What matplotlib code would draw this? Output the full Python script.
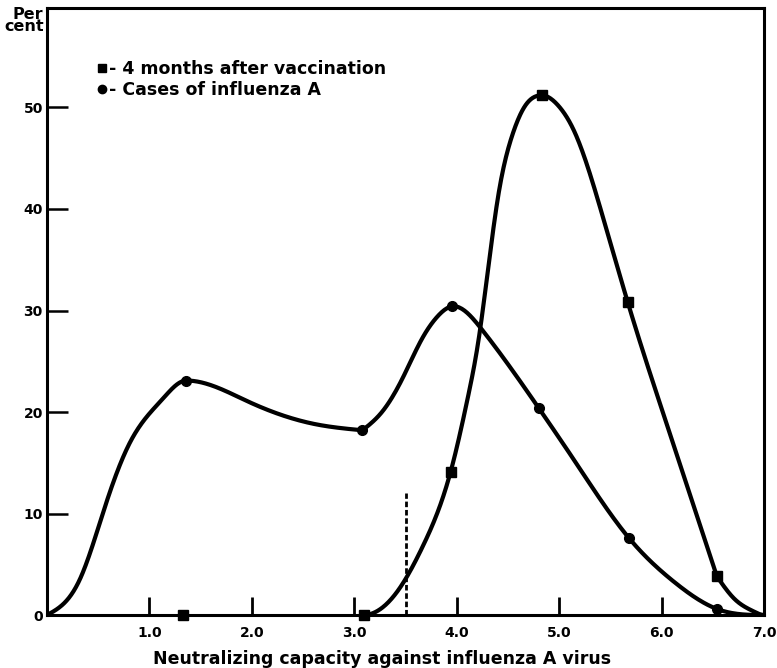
import numpy as np
import matplotlib
matplotlib.use("Agg")
from matplotlib import pyplot as plt
from matplotlib.lines import Line2D

# measured points (markers)
vacc_x = [1.33, 3.09, 3.94, 4.83, 5.67, 6.54]
vacc_y = [0.0, 0.0, 14.1, 51.2, 30.8, 3.8]
case_x = [1.36, 3.08, 3.95, 4.80, 5.68, 6.54]
case_y = [23.1, 18.2, 30.4, 20.4, 7.6, 0.6]

# curves as drawn on the original (traced), split at peaks and bends
case_tx1 = [0.0, 0.32, 0.58, 0.81, 1.13, 1.36]
case_ty1 = [0.0, 3.5, 11.1, 17.0, 21.3, 23.1]
case_tx2 = [1.36, 1.97, 2.62, 3.08]
case_ty2 = [23.1, 21.0, 18.8, 18.2]
case_tx3 = [3.08, 3.27, 3.47, 3.66, 3.82, 3.95, 4.24, 4.80, 5.15, 5.68, 6.13,
            6.54, 7.0]
case_ty3 = [18.2, 20.0, 23.3, 27.2, 29.5, 30.4, 28.2, 20.4, 15.2, 7.6, 3.2,
            0.6, 0.0]
vacc_tx1 = [3.09, 3.46, 3.67, 3.94, 4.11, 4.21, 4.31, 4.41, 4.54, 4.67, 4.83]
vacc_ty1 = [0.0, 2.9, 6.8, 14.1, 21.5, 26.9, 34.4, 41.6, 47.2, 50.2, 51.2]
vacc_tx2 = [4.83, 4.99, 5.15, 5.41, 5.67, 6.10, 6.54]
vacc_ty2 = [51.2, 50.2, 47.6, 39.8, 30.8, 17.3, 3.8]
vacc_tx3 = [6.54, 6.71, 6.91, 7.0]
vacc_ty3 = [3.8, 1.6, 0.3, 0.0]

xticks = [1, 2, 3, 4, 5, 6, 7]
xlabels = ["1.0", "2.0", "3.0", "4.0", "5.0", "6.0", "7.0"]
yticks = [0, 10, 20, 30, 40, 50]


def cspline(x, y, xn, s0=None, s1=None):
    # cubic spline, natural ends unless an end slope is given
    x = np.asarray(x, float)
    y = np.asarray(y, float)
    n = len(x)
    h = np.diff(x)
    d = np.diff(y) / h
    A = np.zeros((n, n))
    b = np.zeros(n)
    for i in range(1, n - 1):
        A[i, i - 1] = h[i - 1]
        A[i, i] = 2 * (h[i - 1] + h[i])
        A[i, i + 1] = h[i]
        b[i] = 6 * (d[i] - d[i - 1])
    if s0 is None:
        A[0, 0] = 1
    else:
        A[0, 0], A[0, 1], b[0] = 2 * h[0], h[0], 6 * (d[0] - s0)
    if s1 is None:
        A[-1, -1] = 1
    else:
        A[-1, -2], A[-1, -1], b[-1] = h[-1], 2 * h[-1], 6 * (s1 - d[-1])
    M = np.linalg.solve(A, b)
    i = np.clip(np.searchsorted(x, xn) - 1, 0, n - 2)
    hi = h[i]
    a = x[i + 1] - xn
    c = xn - x[i]
    return (M[i] * a**3 / (6 * hi) + M[i + 1] * c**3 / (6 * hi)
            + (y[i] / hi - M[i] * hi / 6) * a + (y[i + 1] / hi - M[i + 1] * hi / 6) * c)


def curve(ax, tx, ty, s0=None, s1=None):
    xs = np.linspace(tx[0], tx[-1], 300)
    ax.plot(xs, cspline(tx, ty, xs, s0, s1), color="black", lw=3,
            solid_capstyle="round")


fig = plt.figure(figsize=(7.77, 6.68), dpi=100)
ax = fig.add_axes([0.0605, 0.0793, 0.9228, 0.9087])

curve(ax, case_tx1, case_ty1, s1=0.0)
curve(ax, case_tx2, case_ty2, s0=0.0)
curve(ax, case_tx3, case_ty3, s1=0.0)
curve(ax, vacc_tx1, vacc_ty1, s0=0.0, s1=0.0)
curve(ax, vacc_tx2, vacc_ty2, s0=0.0)
curve(ax, vacc_tx3, vacc_ty3, s1=0.0)

ax.plot(case_x, case_y, "o", color="black", ms=7, clip_on=False)
ax.plot(vacc_x, vacc_y, "s", color="black", ms=7, clip_on=False)

ax.plot([3.5, 3.5], [0, 12], color="black", lw=2, ls=(0, (2, 1)))

ax.set_xlim(0, 7.0)
ax.set_ylim(0, 59.8)
for s in ax.spines.values():
    s.set_linewidth(2.2)

ax.set_xticks(xticks)
ax.set_xticklabels(xlabels, fontsize=10, fontweight="bold")
ax.set_yticks(yticks)
ax.set_yticklabels([str(v) for v in yticks], fontsize=10, fontweight="bold")
ax.tick_params(axis="x", direction="in", length=13, width=2, pad=8)
ax.tick_params(axis="y", direction="in", length=15, width=1.8, pad=3)
ax.xaxis.get_major_ticks()[-1].tick1line.set_visible(False)
ax.yaxis.get_major_ticks()[0].tick1line.set_visible(False)

ax.set_xlabel("Neutralizing capacity against influenza A virus",
              fontsize=12.5, fontweight="bold")
ax.xaxis.set_label_coords(0.467, -0.058)

fig.text(0.056, 0.99, "Per\ncent", ha="right", va="top", fontsize=11.5,
         fontweight="bold", linespacing=0.8)

handles = [Line2D([], [], marker="s", color="black", ls="none", ms=6),
           Line2D([], [], marker="o", color="black", ls="none", ms=6)]
ax.legend(handles, ["- 4 months after vaccination", "- Cases of influenza A"],
          loc="upper left", bbox_to_anchor=(0.048, 0.94), frameon=False,
          handlelength=0.6, handletextpad=0.1, labelspacing=0.15,
          prop={"size": 12.5, "weight": "bold"})

fig.savefig("out.png", dpi=100)
